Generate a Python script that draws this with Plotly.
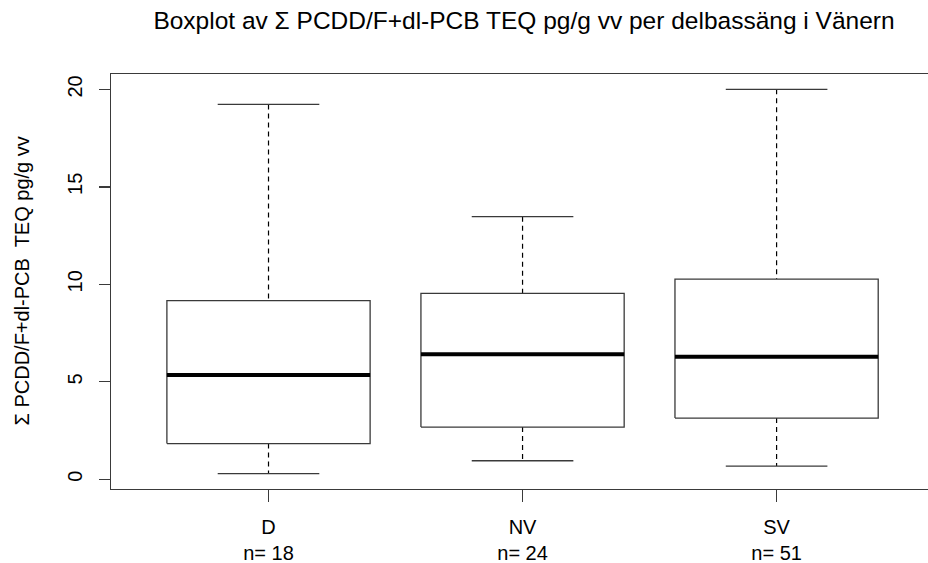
import plotly.graph_objects as go

categories = ["D", "NV", "SV"]
counts = [18, 24, 51]
lower_whisker = [0.29, 0.95, 0.68]
q1 = [1.83, 2.68, 3.14]
median = [5.35, 6.41, 6.29]
q3 = [9.16, 9.54, 10.27]
upper_whisker = [19.23, 13.47, 20.0]
y_ticks = [0, 5, 10, 15, 20]

FONT = "Liberation Sans, Arial, sans-serif"
LINE = "#3a3a3a"
BOX_HALF = 0.4
CAP_HALF = 0.2

W, H = 928, 563
ML, MT, MB, MR = 111, 74, 74, 0

fig = go.Figure()
positions = list(range(1, len(categories) + 1))

for i, pos in enumerate(positions):
    # whiskers (dashed)
    fig.add_trace(go.Scatter(
        x=[pos, pos, None, pos, pos],
        y=[upper_whisker[i], q3[i], None, q1[i], lower_whisker[i]],
        mode="lines", line=dict(color="black", width=1.2, dash="5px,4px"),
        hoverinfo="skip", showlegend=False))
    # caps
    fig.add_trace(go.Scatter(
        x=[pos - CAP_HALF, pos + CAP_HALF, None, pos - CAP_HALF, pos + CAP_HALF],
        y=[upper_whisker[i], upper_whisker[i], None, lower_whisker[i], lower_whisker[i]],
        mode="lines", line=dict(color=LINE, width=1.3),
        hoverinfo="skip", showlegend=False))
    # box
    fig.add_trace(go.Scatter(
        x=[pos - BOX_HALF, pos + BOX_HALF, pos + BOX_HALF, pos - BOX_HALF, pos - BOX_HALF],
        y=[q1[i], q1[i], q3[i], q3[i], q1[i]],
        mode="lines", line=dict(color=LINE, width=1.3),
        hoverinfo="skip", showlegend=False))
    # median
    fig.add_trace(go.Scatter(
        x=[pos - BOX_HALF, pos + BOX_HALF],
        y=[median[i], median[i]],
        mode="lines", line=dict(color="black", width=4),
        hoverinfo="skip", showlegend=False))

ymin = min(lower_whisker)
ymax = max(upper_whisker)
pad = 0.04 * (ymax - ymin)

ticktext = [f"{c}<br>n= {n}" for c, n in zip(categories, counts)]

fig.update_layout(
    width=W, height=H,
    margin=dict(l=ML, r=MR, t=MT, b=MB, pad=0, autoexpand=False),
    paper_bgcolor="white", plot_bgcolor="white",
    font=dict(family=FONT, color="black", size=20),
    title=dict(text="Boxplot av Σ PCDD/F+dl-PCB TEQ pg/g vv per delbassäng i Vänern",
               x=524 / W, xanchor="center", xref="container",
               y=1 - 20 / H, yanchor="middle", yref="container",
               font=dict(size=24.5, family=FONT, color="black")),
    xaxis=dict(range=[0.38, 3.596], tickmode="array", tickvals=positions,
               ticktext=ticktext, ticks="outside", ticklen=12, tickcolor=LINE,
               tickwidth=1.3, ticklabelstandoff=8, automargin=False,
               showline=True, linecolor=LINE, linewidth=1.3,
               mirror=True, showgrid=False, zeroline=False,
               tickfont=dict(size=20)),
    yaxis=dict(range=[ymin - pad, ymax + pad], tickmode="array", tickvals=y_ticks,
               ticktext=[str(v) for v in y_ticks], ticks="outside", ticklen=11,
               tickcolor=LINE, tickwidth=1.3, tickangle=-90, ticklabelstandoff=9,
               automargin=False,
               showline=True, linecolor=LINE, linewidth=1.3, mirror=False,
               showgrid=False, zeroline=False, tickfont=dict(size=20)),
)

fig.add_annotation(text="Σ PCDD/F+dl-PCB  TEQ pg/g vv", textangle=-90,
                   xref="paper", yref="paper", x=(21 - ML) / (W - ML), y=0.5,
                   xanchor="center", yanchor="middle", showarrow=False,
                   font=dict(size=20, family=FONT, color="black"))

fig.write_html("out.html",
               config={"displayModeBar": False, "staticPlot": True},
               post_script="document.body.style.margin='0';document.body.style.overflow='hidden';")
